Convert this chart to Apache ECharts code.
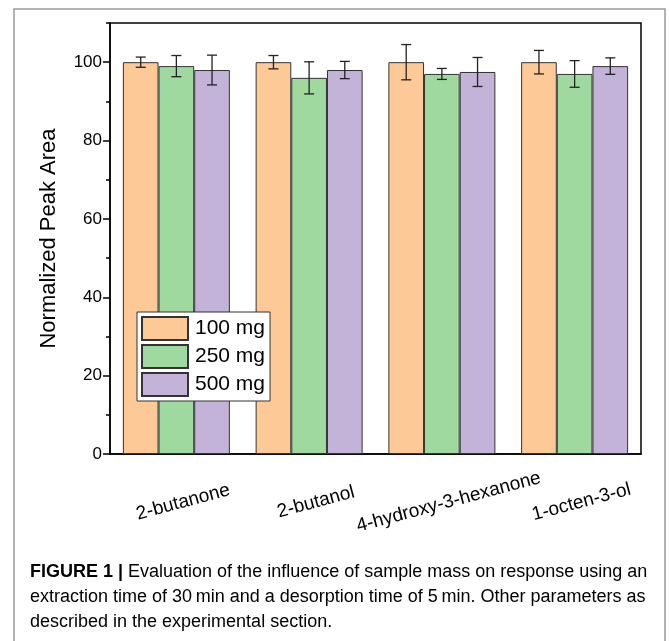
<!DOCTYPE html>
<html>
<head>
<meta charset="utf-8">
<script src="https://cdn.jsdelivr.net/npm/echarts@6/dist/echarts.min.js"></script>
<style>
html,body{margin:0;padding:0;background:#fff;}
#chart{width:670px;height:641px;}
</style>
</head>
<body>
<div id="chart"></div>
<script>
// ---- data ----
const categories = ['2-butanone', '2-butanol', '4-hydroxy-3-hexanone', '1-octen-3-ol'];
const seriesNames = ['100 mg', '250 mg', '500 mg'];
const values100 = [100, 100, 100, 100];
const values250 = [99, 96, 97, 97];
const values500 = [98, 98, 97.5, 99];
const errors100 = [1.3, 1.7, 4.5, 3.0];
const errors250 = [2.7, 4.1, 1.4, 3.4];
const errors500 = [3.8, 2.2, 3.7, 2.1];
const yTicks = [0, 20, 40, 60, 80, 100];
const captionLines = [
  ['FIGURE 1 | ', 'Evaluation of the influence of sample mass on response using an'],
  ['', 'extraction time of 30\u2009min and a desorption time of 5\u2009min. Other parameters as'],
  ['', 'described in the experimental section.']
];

const colors = ['#FCC997', '#A0D9A0', '#C3B3D8'];
const allValues = [values100, values250, values500];
const allErrors = [errors100, errors250, errors500];
const catGap = 0.194;
const FONT = 'Liberation Sans, Arial, sans-serif';

const chart = echarts.init(document.getElementById('chart'), null, {renderer: 'canvas'});

const barSeries = seriesNames.map((name, i) => ({
  name: name,
  type: 'bar',
  data: allValues[i],
  barGap: '0%',
  barCategoryGap: (catGap * 100) + '%',
  itemStyle: {color: colors[i], borderColor: '#333', borderWidth: 1},
  emphasis: {disabled: true},
  z: 2
}));

const errSeries = seriesNames.map((name, i) => ({
  type: 'custom',
  name: name + ' err',
  data: allValues[i].map((v, k) => [k, v, allErrors[i][k]]),
  z: 5,
  silent: true,
  renderItem: function (params, api) {
    const idx = api.value(0), v = api.value(1), e = api.value(2);
    const c = api.coord([idx, v]);
    const band = api.size([1, 0])[0];
    const bw = band * (1 - catGap) / 3;
    const x = c[0] + (i - 1) * bw;
    const yHi = api.coord([idx, v + e])[1];
    const yLo = api.coord([idx, v - e])[1];
    const cap = 5;
    const st = {stroke: '#222', lineWidth: 1.3};
    return {
      type: 'group',
      children: [
        {type: 'line', shape: {x1: x, y1: yHi, x2: x, y2: yLo}, style: st},
        {type: 'line', shape: {x1: x - cap, y1: yHi, x2: x + cap, y2: yHi}, style: st},
        {type: 'line', shape: {x1: x - cap, y1: yLo, x2: x + cap, y2: yLo}, style: st}
      ]
    };
  }
}));

const captionGraphics = captionLines.map((ln, j) => ({
  type: 'text',
  left: 30,
  top: 563 + j * 25,
  style: {
    text: (ln[0] ? '{b|' + ln[0] + '}' : '') + '{n|' + ln[1] + '}',
    rich: {
      b: {fontFamily: FONT, fontWeight: 'bold', fontSize: 18, color: '#333'},
      n: {fontFamily: FONT, fontSize: 18, color: '#333'}
    }
  }
}));

const option = {
  animation: false,
  textStyle: {fontFamily: FONT},
  grid: {left: 110, right: 29, top: 23, bottom: 187, show: true, borderColor: '#000', borderWidth: 1.5, backgroundColor: 'transparent'},
  legend: {
    data: seriesNames,
    orient: 'vertical',
    left: 137, top: 312,
    itemWidth: 46, itemHeight: 23, itemGap: 3,
    padding: [4, 5, 4, 4],
    borderColor: '#333', borderWidth: 1,
    backgroundColor: '#fff',
    icon: 'rect',
    textStyle: {fontSize: 21, lineHeight: 23, color: '#000', padding: [0, 0, 0, 2]},
    selectedMode: false
  },
  xAxis: [{
    type: 'category',
    data: categories,
    position: 'bottom',
    axisLine: {lineStyle: {color: '#000', width: 1.5}},
    axisTick: {alignWithLabel: true, length: 8, lineStyle: {color: '#000', width: 1.5}},
    axisLabel: {rotate: 15, align: 'center', verticalAlign: 'middle', margin: 50, fontSize: 19, color: '#000', padding: [0, 0, 0, 14]},
    splitLine: {show: false}
  }, {
    type: 'category',
    data: categories,
    position: 'bottom',
    axisLine: {show: false},
    axisTick: {length: 5, lineStyle: {color: '#000', width: 1.5}},
    axisLabel: {show: false},
    splitLine: {show: false}
  }],
  yAxis: [{
    type: 'value',
    min: 0, max: 110, interval: 20,
    name: 'Normalized Peak Area',
    nameLocation: 'middle',
    nameGap: 50,
    nameTextStyle: {fontSize: 22, color: '#000'},
    axisLine: {show: true, lineStyle: {color: '#000', width: 1.5}},
    axisTick: {show: true, length: 7, lineStyle: {color: '#000', width: 1.5}},
    axisLabel: {fontSize: 17, color: '#000', margin: 8, showMaxLabel: false,
      formatter: function (v) { return yTicks.indexOf(v) >= 0 ? String(v) : ''; }},
    splitLine: {show: false}
  }, {
    type: 'value',
    min: 0, max: 110, interval: 10,
    position: 'left',
    axisLine: {show: false},
    axisTick: {show: true, length: 4, lineStyle: {color: '#000', width: 1.5}},
    axisLabel: {show: false},
    splitLine: {show: false}
  }],
  series: barSeries.concat(errSeries),
  graphic: [{
    type: 'polyline',
    shape: {points: [[14, 641], [14, 9], [665, 9], [665, 641]]},
    style: {stroke: '#999', lineWidth: 1.5, fill: null}
  }].concat(captionGraphics)
};
chart.setOption(option);
</script>
</body>
</html>
